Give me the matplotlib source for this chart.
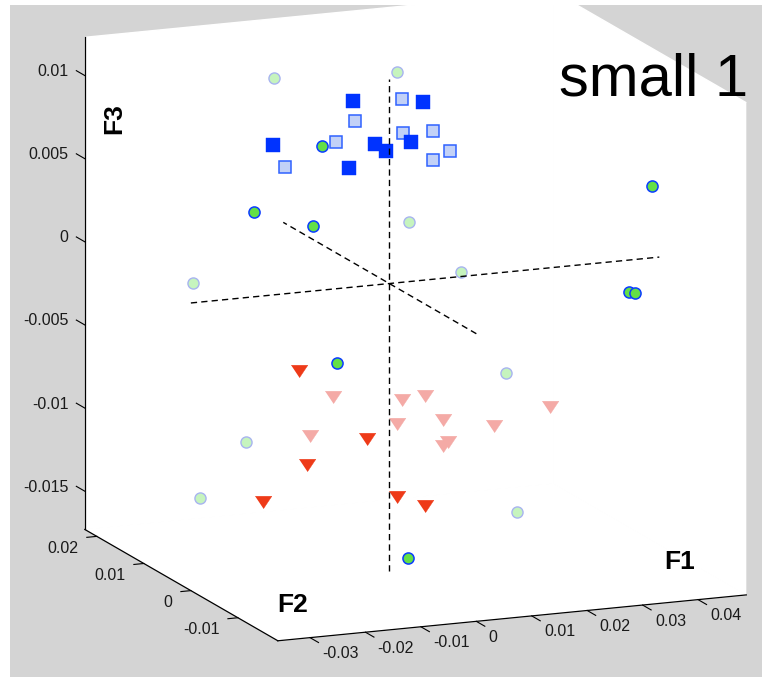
import numpy as np
import matplotlib.pyplot as plt
from matplotlib.patches import Rectangle

plt.rcParams['font.family'] = ['Liberation Sans', 'DejaVu Sans']

# axis ranges and ticks
f1_lim = (-0.0358, 0.0487)
f2_lim = (-0.0185, 0.02255)
f3_lim = (-0.0173, 0.0123)

f1_ticks = [-0.03, -0.02, -0.01, 0, 0.01, 0.02, 0.03, 0.04]
f1_labels = ['-0.03', '-0.02', '-0.01', '0', '0.01', '0.02', '0.03', '0.04']
f2_ticks = [-0.01, 0, 0.01, 0.02]
f2_labels = ['-0.01', '0', '0.01', '0.02']
f3_ticks = [-0.015, -0.01, -0.005, 0, 0.005, 0.01]
f3_labels = ['-0.015', '-0.01', '-0.005', '0', '0.005', '0.01']

# light green circles
lg_f1 = [-0.0081, 0.0141, 0.0036, 0.0129, -0.0354, 0.0211, -0.0259, -0.0342, 0.0231]
lg_f2 = [0.015, 0.015, 0, 0, 0, 0, 0, 0, 0]
lg_f3 = [0.0102, 0.0098, 0.0036, 0.0003, 0.0012, -0.0061, -0.0087, -0.0118, -0.0145]

# light blue squares
lsq_f1 = [-0.0062, -0.0096, -0.0188, 0.0023, 0.0025, 0.0079, 0.0110, 0.0079]
lsq_f2 = [0, 0, 0, 0, 0, 0, 0, 0]
lsq_f3 = [0.0100, 0.0088, 0.0076, 0.0110, 0.0090, 0.0089, 0.0076, 0.0072]

# pink triangles
ltr_f1 = [-0.0102, -0.0143, 0.0023, 0.0064, 0.0014, 0.0097, 0.0189, 0.0290, 0.0097, 0.0106]
ltr_f2 = [0, 0, 0, 0, 0, 0, 0, 0, 0, 0]
ltr_f3 = [-0.0065, -0.0087, -0.0071, -0.0070, -0.0085, -0.0085, -0.0092, -0.0084, -0.0101, -0.0099]

# dark blue squares
sq_f1 = [-0.0066, 0.0061, -0.0210, -0.0026, -0.0006, 0.0039, -0.0073]
sq_f2 = [0, 0, 0, 0, 0, 0, 0]
sq_f3 = [0.0112, 0.0107, 0.0090, 0.0085, 0.0080, 0.0084, 0.0072]

# red triangles
tr_f1 = [-0.0163, -0.0040, -0.0149, -0.0228, 0.0014, 0.0064]
tr_f2 = [0, 0, 0, 0, 0, 0]
tr_f3 = [-0.0047, -0.0092, -0.0104, -0.0124, -0.0129, -0.0136]

# green circles
g_f1 = [-0.0122, -0.0244, -0.0138, 0.0473, 0.0433, 0.0444, -0.0094, 0.0034]
g_f2 = [0, 0, 0, 0, 0, 0, 0, 0]
g_f3 = [0.0087, 0.0051, 0.0039, 0.0043, -0.0019, -0.0020, -0.0045, -0.0166]

W, H = 765, 677
fig = plt.figure(figsize=(W / 100, H / 100), dpi=100, facecolor='white')
fig.patches.append(Rectangle((10 / W, 0), 752 / W, 672 / H, transform=fig.transFigure,
                             facecolor='#d4d4d4', edgecolor='none', zorder=-10))

ax = fig.add_axes([0, 0, 1, 1], projection='3d', proj_type='ortho', computed_zorder=False)
ax.patch.set_visible(False)
ax.view_init(elev=13.75, azim=-112.4)
ax.set_box_aspect((1, 1, 1))
ax.set_xlim(*f1_lim)
ax.set_ylim(*f2_lim)
ax.set_zlim(*f3_lim)
ax.grid(False)

ax.set_xticks(f1_ticks)
ax.set_yticks(f2_ticks)
ax.set_zticks(f3_ticks)

for axis in (ax.xaxis, ax.yaxis, ax.zaxis):
    axis.set_pane_color((1, 1, 1, 1))
    axis.line.set_color('black')
    axis.line.set_linewidth(0.9)
    axis._axinfo['tick']['inward_factor'] = 0.0
    axis._axinfo['tick']['outward_factor'] = 0.0
    axis.set_tick_params(label1On=False)

# tick marks and labels
tick_line = dict(color='black', lw=0.8)
tick_kw = dict(fontsize=11.5, color='#1a1a1a')
for v, s in zip(f1_ticks, f1_labels):
    ax.plot([v, v], [f2_lim[0], f2_lim[0] - 0.0018], [f3_lim[0]] * 2, **tick_line)
    ax.text(v, f2_lim[0] - 0.0026, f3_lim[0] - 0.00054, s, ha='left', va='center', **tick_kw)
for v, s in zip(f2_ticks, f2_labels):
    ax.plot([f1_lim[0], f1_lim[0] - 0.0018], [v, v], [f3_lim[0]] * 2, **tick_line)
    ax.text(f1_lim[0] - 0.0033, v, f3_lim[0] - 0.0006, s, ha='right', va='center', **tick_kw)
for v, s in zip(f3_ticks, f3_labels):
    ax.plot([f1_lim[0]] * 2, [f2_lim[1], f2_lim[1] + 0.0018], [v, v], **tick_line)
    ax.text(f1_lim[0] - 0.0029, f2_lim[1], v + 0.00034, s, ha='right', va='center', **tick_kw)

# markers
tri = [(-1, 0.75), (1, 0.75), (0, -0.75)]
ax.plot(lg_f1, lg_f2, lg_f3, ls='none', marker='o', ms=8, mfc='#c6f4be', mec='#a8b4f0', mew=1.0)
ax.plot(lsq_f1, lsq_f2, lsq_f3, ls='none', marker='s', ms=8.8, mfc='#c2d1f7', mec='#2f62ff', mew=1.1)
ax.plot(ltr_f1, ltr_f2, ltr_f3, ls='none', marker=tri, ms=12, mfc='#f4aaa6', mec='#f4aaa6', mew=0.3)
ax.plot(sq_f1, sq_f2, sq_f3, ls='none', marker='s', ms=9.6, mfc='#0033ff', mec='#0033ff', mew=0.3)
ax.plot(tr_f1, tr_f2, tr_f3, ls='none', marker=tri, ms=12, mfc='#ee3a18', mec='#ee3a18', mew=0.3)
ax.plot(g_f1, g_f2, g_f3, ls='none', marker='o', ms=8, mfc='#64e046', mec='#0a3cff', mew=1.1)

# dashed lines through the origin
dash = dict(color='black', lw=1.0, dashes=(4.5, 3))
ax.plot(f1_lim, [0, 0], [0, 0], **dash)
ax.plot([0, 0], f2_lim, [0, 0], **dash)
ax.plot([0, 0], [0, 0], f3_lim, **dash)

# place the axes so that the box corners sit where they should
fig.canvas.draw()
corners = [(f1_lim[0], f2_lim[0], f3_lim[0]),
           (f1_lim[1], f2_lim[0], f3_lim[0]),
           (f1_lim[0], f2_lim[1], f3_lim[1])]
targets = [(278, H - 641), (746, H - 595), (85, H - 37)]
bb = ax.get_position()
x0, y0, side = bb.x0 * W, bb.y0 * H, bb.width * W
M = ax.get_proj()
rows, rhs = [], []
for c, t in zip(corners, targets):
    v = M @ np.array([c[0], c[1], c[2], 1.0])
    px, py = ax.transData.transform((v[0] / v[3], v[1] / v[3]))
    u = ((px - x0) / side, (py - y0) / side)
    rows += [[1, 0, u[0]], [0, 1, u[1]]]
    rhs += [t[0], t[1]]
nx0, ny0, nside = np.linalg.lstsq(np.array(rows), np.array(rhs, float), rcond=None)[0]
ax.set_position([nx0 / W, ny0 / H, nside / W, nside / H])

fig.text(114 / W, 1 - 119 / H, 'F3', rotation=90, ha='center', va='center',
         fontsize=19, fontweight='bold')
fig.text(293 / W, 1 - 605 / H, 'F2', ha='center', va='center', fontsize=19, fontweight='bold')
fig.text(680 / W, 1 - 562 / H, 'F1', ha='center', va='center', fontsize=19, fontweight='bold')
fig.text(748 / W, 1 - 95 / H, 'small 1', ha='right', va='baseline', fontsize=43)

fig.savefig('out.png', dpi=100)
